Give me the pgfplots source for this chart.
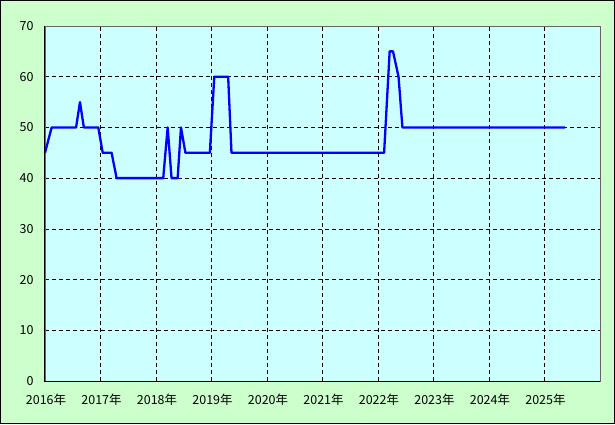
\documentclass[border=0pt]{standalone}
\usepackage{pgfplots}
\pgfplotsset{compat=1.18}
\usepackage{fontspec}
\setmainfont{Noto Sans CJK JP}
\definecolor{bggreen}{HTML}{CCFFCC}
\definecolor{plotcyan}{HTML}{CCFFFF}
\begin{document}
\begin{tikzpicture}[x=1bp,y=1bp]
\path[use as bounding box] (-45,-43) rectangle (570,381);
\fill[bggreen] (-45,-43) rectangle (570,381);
\draw[black,line width=1bp] (-44.5,-42.5) rectangle (569.5,380.5);
\begin{axis}[
  at={(0,0)}, anchor=south west,
  scale only axis, width=555bp, height=355bp,
  xmin=2016, xmax=2026, ymin=0, ymax=70,
  xtick={2016,...,2025},
  xticklabels={2016年,2017年,2018年,2019年,2020年,2021年,2022年,2023年,2024年,2025年},
  ytick={0,10,...,70},
  major tick length=0pt,
  axis background/.style={fill=plotcyan},
  axis line style={gray!80!black, line width=0.8bp},
  grid=major,
  grid style={black, line width=0.6bp, dash pattern=on 4bp off 3bp},
  tick label style={font=\fontsize{12.5}{14}\selectfont, text=black},
  xticklabel style={yshift=-9bp, xshift=1bp},
  yticklabel style={xshift=-8bp},
  /pgf/number format/assume math mode=true,
  clip=false,
]
\addplot[blue, line width=2.3bp, line join=round] coordinates {
(2016.00,45) (2016.12,50) (2016.56,50) (2016.63,55) (2016.70,50) (2016.96,50)
(2017.04,45) (2017.20,45) (2017.29,40) (2018.13,40) (2018.21,50) (2018.28,40)
(2018.39,40) (2018.45,50) (2018.53,45) (2018.97,45) (2019.05,60) (2019.30,60)
(2019.36,45) (2022.11,45) (2022.21,65) (2022.27,65) (2022.37,60) (2022.44,50)
(2025.37,50)
};
\draw[black, line width=1bp] (rel axis cs:0,1) -- (rel axis cs:0,0) -- (rel axis cs:1,0);
\end{axis}
\end{tikzpicture}
\end{document}
